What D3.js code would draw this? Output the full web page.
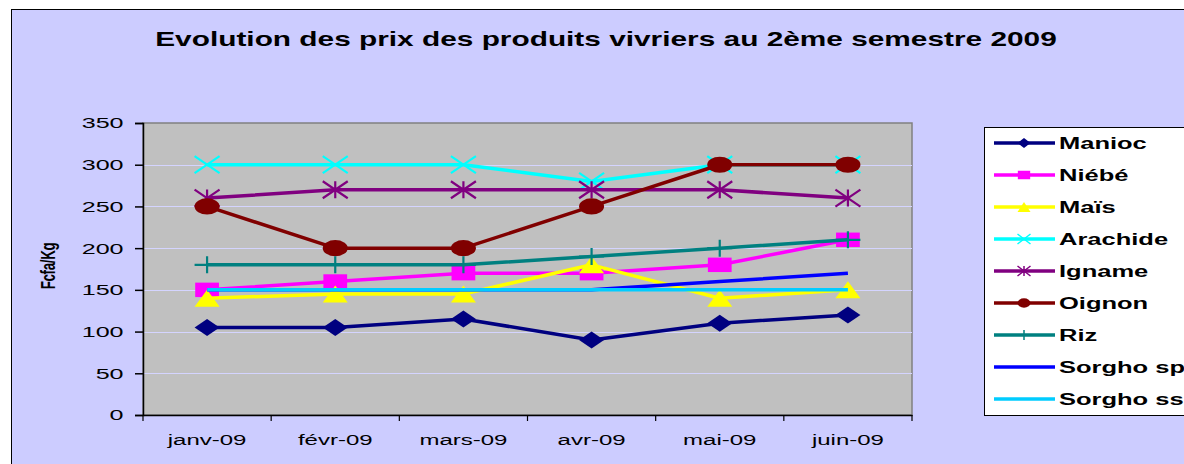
<!DOCTYPE html>
<html>
<head>
<meta charset="utf-8">
<script src="https://cdn.jsdelivr.net/npm/d3@7"></script>
<style>
  body { margin: 0; background: #fff; }
  text { font-family: "Liberation Sans", Arial, sans-serif; }
</style>
</head>
<body>
<div id="chart"></div>
<script>
// data
var months = ["janv-09", "févr-09", "mars-09", "avr-09", "mai-09", "juin-09"];
var yTicks = [0, 50, 100, 150, 200, 250, 300, 350];

var manioc    = [105, 105, 115, 90, 110, 120];
var niebe     = [150, 160, 170, 170, 180, 210];
var mais      = [140, 145, 145, 180, 140, 150];
var arachide  = [300, 300, 300, 280, 300, 300];
var igname    = [260, 270, 270, 270, 270, 260];
var oignon    = [250, 200, 200, 250, 300, 300];
var riz       = [180, 180, 180, 190, 200, 210];
var sorghoSp  = [150, 150, 150, 150, 160, 170];
var sorghoSs  = [150, 150, 150, 150, 150, 150];

var series = [
  { name: "Manioc",    values: manioc,   color: "#000080", marker: "diamond" },
  { name: "Niébé",     values: niebe,    color: "#FF00FF", marker: "square" },
  { name: "Maïs",      values: mais,     color: "#FFFF00", marker: "triangle" },
  { name: "Arachide",  values: arachide, color: "#00FFFF", marker: "x" },
  { name: "Igname",    values: igname,   color: "#800080", marker: "star" },
  { name: "Oignon",    values: oignon,   color: "#800000", marker: "circle" },
  { name: "Riz",       values: riz,      color: "#008080", marker: "plus" },
  { name: "Sorgho sp", values: sorghoSp, color: "#0000FF", marker: null },
  { name: "Sorgho ss", values: sorghoSs, color: "#00CCFF", marker: null }
];

var svgWidth = 1184;
var svgHeight = 464;

var plot = { left: 143, top: 123, right: 912, bottom: 415 };

var svg = d3.select("#chart")
  .append("svg")
  .attr("width", svgWidth)
  .attr("height", svgHeight);

// outer chart area
svg.append("rect")
  .attr("x", 11.5).attr("y", 9.5)
  .attr("width", 1200).attr("height", 500)
  .attr("fill", "#CCCCFF")
  .attr("stroke", "#000").attr("stroke-width", 1);

// the original text is stretched sideways, so scale it
svg.append("text")
  .attr("transform", "translate(606,46) scale(1.53,1)")
  .attr("text-anchor", "middle")
  .attr("font-size", 19.5)
  .attr("font-weight", "bold")
  .text("Evolution des prix des produits vivriers au 2ème semestre 2009");

var x = d3.scaleBand()
  .domain(months)
  .range([plot.left, plot.right]);

var y = d3.scaleLinear()
  .domain([0, 350])
  .range([plot.bottom, plot.top]);

// plot area
svg.append("rect")
  .attr("x", plot.left).attr("y", plot.top)
  .attr("width", plot.right - plot.left)
  .attr("height", plot.bottom - plot.top)
  .attr("fill", "#C0C0C0")
  .attr("stroke", "#808080").attr("stroke-width", 1.5);

// gridlines
svg.append("g").selectAll("line")
  .data(yTicks.filter(d => d > 0 && d < 350))
  .enter().append("line")
  .attr("x1", plot.left).attr("x2", plot.right)
  .attr("y1", d => Math.round(y(d)) + 0.5).attr("y2", d => Math.round(y(d)) + 0.5)
  .attr("stroke", "#D4D4FF").attr("stroke-width", 1);

// y axis
var yAxis = svg.append("g")
  .attr("transform", `translate(${plot.left},0)`)
  .call(d3.axisLeft(y).tickValues(yTicks).tickSize(8).tickPadding(4));
yAxis.selectAll("text")
  .attr("font-size", 15.5).attr("fill", "#000")
  .attr("font-family", "Liberation Sans, Arial, sans-serif")
  .attr("transform", "scale(1.62,1)");
yAxis.selectAll("line, path").attr("stroke", "#000").attr("stroke-width", 1.5);

// x axis, ticks between categories
var xAxis = svg.append("g")
  .attr("transform", `translate(0,${plot.bottom})`)
  .call(d3.axisBottom(x).tickSize(0).tickPadding(19));
xAxis.selectAll("text")
  .attr("font-size", 15.5).attr("fill", "#000")
  .attr("font-family", "Liberation Sans, Arial, sans-serif")
  .attr("transform", "scale(1.55,1)");
xAxis.select("path").attr("stroke", "#000").attr("stroke-width", 1.5);
xAxis.selectAll(".sep")
  .data(d3.range(months.length + 1))
  .enter().append("line")
  .attr("x1", i => plot.left + i * x.step()).attr("x2", i => plot.left + i * x.step())
  .attr("y1", 0).attr("y2", 6)
  .attr("stroke", "#000").attr("stroke-width", 1.2);

svg.append("text")
  .attr("transform", "translate(55,266) rotate(-90) scale(1,1.45)")
  .attr("text-anchor", "middle")
  .attr("font-size", 13.5)
  .attr("font-weight", "bold")
  .attr("letter-spacing", -0.4)
  .text("Fcfa/Kg");

// marker shapes, drawn in a unit box then stretched
function drawMarker(g, type, color, sx, sy, sw) {
  if (type === "diamond") {
    g.append("path").attr("d", `M${-sx},0L0,${-sy}L${sx},0L0,${sy}Z`).attr("fill", color);
  } else if (type === "square") {
    g.append("rect").attr("x", -sx * 0.95).attr("y", -sy * 0.85)
      .attr("width", sx * 1.9).attr("height", sy * 1.7).attr("fill", color);
  } else if (type === "triangle") {
    g.append("path").attr("d", `M0,${-sy}L${sx},${sy}L${-sx},${sy}Z`).attr("fill", color);
  } else if (type === "circle") {
    g.append("ellipse").attr("rx", sx).attr("ry", sy * 0.95).attr("fill", color);
  } else if (type === "x" || type === "star" || type === "plus") {
    var d = "";
    if (type !== "plus") d += `M${-sx},${-sy}L${sx},${sy}M${-sx},${sy}L${sx},${-sy}`;
    if (type === "star") d += `M0,${-sy}L0,${sy}`;
    if (type === "plus") d += `M${-sx},0L${sx},0M0,${-sy}L0,${sy}`;
    g.append("path").attr("d", d).attr("fill", "none")
      .attr("stroke", color).attr("stroke-width", sw);
  }
}

var line = d3.line()
  .x((d, i) => x(months[i]) + x.bandwidth() / 2)
  .y(d => y(d));

series.forEach(function(s) {
  var g = svg.append("g");
  g.append("path")
    .datum(s.values)
    .attr("d", line)
    .attr("fill", "none")
    .attr("stroke", s.color)
    .attr("stroke-width", 3.5)
    .attr("stroke-linejoin", "round");
  if (s.marker) {
    s.values.forEach(function(v, i) {
      var m = g.append("g")
        .attr("transform", `translate(${x(months[i]) + x.bandwidth() / 2},${y(v)})`);
      drawMarker(m, s.marker, s.color, 12.5, 8.5, 2.2);
    });
  }
});

// legend
var legend = svg.append("g");
legend.append("rect")
  .attr("x", 984.5).attr("y", 127.5)
  .attr("width", 260).attr("height", 288)
  .attr("fill", "#fff")
  .attr("stroke", "#000").attr("stroke-width", 1);

series.forEach(function(s, i) {
  var ly = 143 + i * 32;
  var item = legend.append("g");
  item.append("line")
    .attr("x1", 994).attr("x2", 1055)
    .attr("y1", ly).attr("y2", ly)
    .attr("stroke", s.color).attr("stroke-width", 3.5);
  if (s.marker) {
    var m = item.append("g").attr("transform", `translate(1024,${ly})`);
    drawMarker(m, s.marker, s.color, 6.5, 5, 1.5);
  }
  item.append("text")
    .attr("transform", `translate(1059,${ly + 6}) scale(1.5,1)`)
    .attr("font-size", 17)
    .attr("font-weight", "bold")
    .text(s.name);
});
</script>
</body>
</html>
